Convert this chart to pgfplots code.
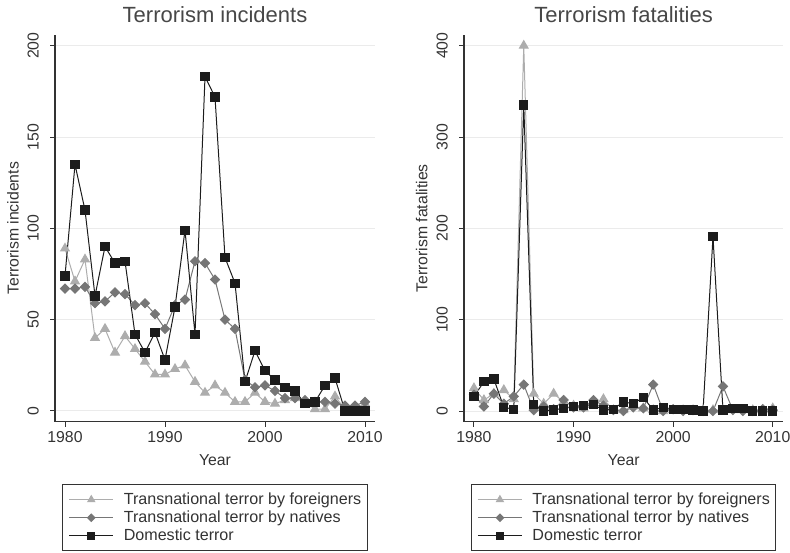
\documentclass[border=0pt]{standalone}
\usepackage{fontspec}
\setmainfont{Liberation Sans}
\usepackage{pgfplots}
\pgfplotsset{compat=1.18}
\definecolor{cfor}{HTML}{ADADAD}
\definecolor{cnat}{HTML}{767676}
\definecolor{cdom}{HTML}{1C1C1C}
\definecolor{ctxt}{HTML}{333333}
\definecolor{cgrid}{HTML}{EBEBEB}
\pgfplotsset{
  stata/.style={
    scale only axis, width=320pt, height=386.7pt,
    axis lines*=left,
    axis line style={line width=1.1pt, color=ctxt},
    xmin=1979, xmax=2011,
    xtick={1980,1990,2000,2010},
    tick align=outside, major tick length=5pt,
    tick style={line width=1pt, color=ctxt},
    ymajorgrids, grid style={cgrid, line width=1pt},
    /pgf/number format/assume math mode=true,
    x tick label style={/pgf/number format/1000 sep={}},
    tick label style={font=\fontsize{15.8}{18}\selectfont, text=ctxt},
    yticklabel style={rotate=90, anchor=south, inner sep=0pt},
    xticklabel style={anchor=north, inner sep=0pt},
    yticklabel shift=11pt,
    xticklabel shift=4.5pt,
    label style={font=\fontsize{15.8}{18}\selectfont, text=ctxt},
    every axis title shift=0pt,
    title style={font=\fontsize{22}{26}\selectfont, text=ctxt!90, anchor=base, inner sep=0pt, at={(axis description cs:0.5,1.0336)}},
    xlabel={Year},
    xlabel style={at={(axis description cs:0.5,-0.099)}, anchor=center},
    clip=false,
    legend cell align=left,
    legend style={at={(axis description cs:0.5,-0.1619)}, anchor=north,
      draw=ctxt, line width=0.8pt, font=\fontsize{16.1}{18}\selectfont, text=ctxt,
      inner xsep=6pt, inner ysep=6pt, row sep=0pt, column sep=10pt,
      nodes={inner xsep=0pt, inner ysep=1.25pt, text height=13pt, text depth=2.5pt},
      column 2/.style={nodes={text width=248pt, align=left}}},
    legend image code/.code={\draw[mark repeat=2, mark phase=2] plot coordinates {(0pt,0pt) (22pt,0pt) (44pt,0pt)};},
  },
  sfor/.style={color=cfor, line width=1pt, mark=triangle*, mark size=5pt, mark options={solid},
    legend image post style={mark size=4pt}},
  snat/.style={color=cnat, line width=1pt, mark=square*, mark size=3.2pt, mark options={solid, rotate=45},
    legend image post style={mark size=2.6pt}},
  sdom/.style={color=cdom, line width=1pt, mark=square*, mark size=4.15pt, mark options={solid},
    legend image post style={mark size=3.5pt}},
}
\begin{document}
\begin{tikzpicture}
\useasboundingbox (0,0) rectangle (790pt,552pt);
\begin{axis}[stata, at={(55pt,130.3pt)}, anchor=south west,
  ymin=-5.86, ymax=205.9, ytick={0,50,100,150,200},
  title={Terrorism incidents}, ylabel={Terrorism incidents},
  ylabel style={at={(axis description cs:-0.131,0.5)}, anchor=center}]
\addplot[sfor] coordinates {(1980,89) (1981,71) (1982,83) (1983,40) (1984,45) (1985,32) (1986,41) (1987,34) (1988,27) (1989,20) (1990,20) (1991,23) (1992,25) (1993,16) (1994,10) (1995,14) (1996,10) (1997,5) (1998,5) (1999,10) (2000,5) (2001,4) (2002,6) (2003,7) (2004,5) (2005,1) (2006,1) (2007,8) (2008,1) (2009,1) (2010,4)};
\addlegendentry{Transnational terror by foreigners}
\addplot[snat] coordinates {(1980,67) (1981,67) (1982,68) (1983,59) (1984,60) (1985,65) (1986,64) (1987,58) (1988,59) (1989,53) (1990,45) (1991,58) (1992,61) (1993,82) (1994,81) (1995,72) (1996,50) (1997,45) (1998,17) (1999,13) (2000,14) (2001,11) (2002,7) (2003,7) (2004,6) (2005,5) (2006,5) (2007,4) (2008,3) (2009,3) (2010,5)};
\addlegendentry{Transnational terror by natives}
\addplot[sdom] coordinates {(1980,74) (1981,135) (1982,110) (1983,63) (1984,90) (1985,81) (1986,82) (1987,42) (1988,32) (1989,43) (1990,28) (1991,57) (1992,99) (1993,42) (1994,183) (1995,172) (1996,84) (1997,70) (1998,16) (1999,33) (2000,22) (2001,17) (2002,13) (2003,11) (2004,4) (2005,5) (2006,14) (2007,18) (2008,0) (2009,0) (2010,0)};
\addlegendentry{Domestic terror}
\end{axis}
\begin{axis}[stata, at={(464pt,130.3pt)}, anchor=south west, width=319.3pt,
  xmax=2011.06,
  ymin=-11.7, ymax=411.7, ytick={0,100,200,300,400},
  title={Terrorism fatalities}, ylabel={Terrorism fatalities},
  ylabel style={at={(axis description cs:-0.1325,0.5)}, anchor=center}]
\addplot[sfor] coordinates {(1980,25) (1981,12) (1982,19) (1983,23) (1984,13) (1985,400) (1986,19) (1987,8) (1988,19) (1989,10) (1990,6) (1991,3) (1992,8) (1993,13) (1994,1) (1995,1) (1996,5) (1997,3) (1998,1) (1999,0) (2000,1) (2001,1) (2002,1) (2003,1) (2004,1) (2005,1) (2006,1) (2007,1) (2008,1) (2009,1) (2010,3)};
\addlegendentry{Transnational terror by foreigners}
\addplot[snat] coordinates {(1980,18) (1981,5) (1982,19) (1983,8) (1984,16) (1985,29) (1986,1) (1987,5) (1988,2) (1989,12) (1990,4) (1991,4) (1992,12) (1993,6) (1994,1) (1995,0) (1996,4) (1997,3) (1998,29) (1999,0) (2000,2) (2001,0) (2002,1) (2003,0) (2004,0) (2005,27) (2006,1) (2007,0) (2008,0) (2009,2) (2010,1)};
\addlegendentry{Transnational terror by natives}
\addplot[sdom] coordinates {(1980,16) (1981,32) (1982,35) (1983,4) (1984,2) (1985,335) (1986,7) (1987,0) (1988,1) (1989,3) (1990,5) (1991,6) (1992,7) (1993,1) (1994,2) (1995,10) (1996,8) (1997,15) (1998,1) (1999,4) (2000,2) (2001,2) (2002,1) (2003,0) (2004,191) (2005,1) (2006,3) (2007,3) (2008,0) (2009,0) (2010,0)};
\addlegendentry{Domestic terror}
\end{axis}
\end{tikzpicture}
\end{document}
